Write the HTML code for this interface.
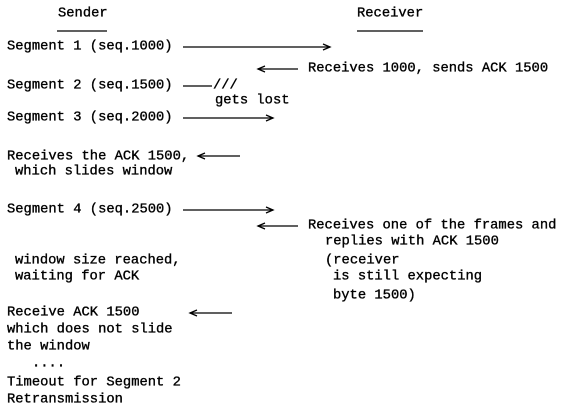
<!DOCTYPE html>
<html><head><meta charset="utf-8"><style>
html,body{margin:0;padding:0;background:#fff;}
svg{display:block;}
text{font-family:"Liberation Mono","DejaVu Sans Mono",monospace;font-size:13.8px;fill:#000;stroke:#000;stroke-width:0.35;dominant-baseline:central;}
line,polyline{stroke:#000;stroke-width:1.3;fill:none;}
</style></head><body>
<svg width="564" height="415" viewBox="0 0 564 415" xmlns="http://www.w3.org/2000/svg">
<text x="58" y="14">Sender</text>
<line x1="57" y1="31" x2="107" y2="31"/>
<text x="357" y="14">Receiver</text>
<line x1="357" y1="31" x2="423" y2="31"/>

<text x="7" y="47">Segment 1 (seq.1000)</text>
<line x1="183" y1="47" x2="330" y2="47"/><polyline points="323,44 330,47 323,50"/>

<line x1="258" y1="69" x2="298" y2="69"/><polyline points="265,66 258,69 265,72"/>
<text x="308" y="69">Receives 1000, sends ACK 1500</text>

<text x="7" y="86">Segment 2 (seq.1500)</text>
<line x1="183" y1="86" x2="212" y2="86"/>
<text x="213" y="86">///</text>
<text x="215" y="101">gets lost</text>

<text x="7" y="118">Segment 3 (seq.2000)</text>
<line x1="183" y1="118" x2="273" y2="118"/><polyline points="266,115 273,118 266,121"/>

<text x="7" y="157">Receives the ACK 1500,</text>
<line x1="198" y1="156" x2="240" y2="156"/><polyline points="205,153 198,156 205,159"/>
<text x="15" y="172">which slides window</text>

<text x="7" y="210">Segment 4 (seq.2500)</text>
<line x1="183" y1="210" x2="273" y2="210"/><polyline points="266,207 273,210 266,213"/>

<line x1="258" y1="226" x2="298" y2="226"/><polyline points="265,223 258,226 265,229"/>
<text x="308" y="226">Receives one of the frames and</text>
<text x="325" y="242">replies with ACK 1500</text>
<text x="15" y="261">window size reached,</text>
<text x="325" y="261">(receiver</text>
<text x="15" y="277">waiting for ACK</text>
<text x="333" y="277">is still expecting</text>
<text x="333" y="296">byte 1500)</text>

<text x="7" y="313">Receive ACK 1500</text>
<line x1="190" y1="313" x2="232" y2="313"/><polyline points="197,310 190,313 197,316"/>
<text x="7" y="330">which does not slide</text>
<text x="7" y="347">the window</text>
<text x="32" y="364">....</text>
<text x="7" y="383">Timeout for Segment 2</text>
<text x="7" y="400">Retransmission</text>
</svg>
</body></html>
